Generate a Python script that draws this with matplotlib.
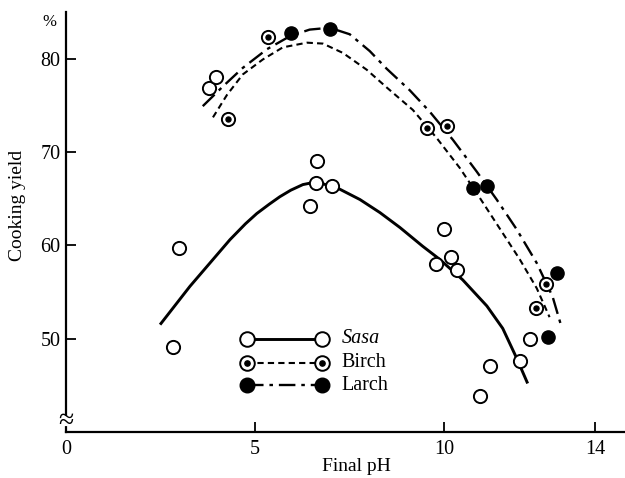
import matplotlib.pyplot as plt

# Sasa (open circles)
sasa_ph = [2.83, 2.99, 3.78, 3.97, 6.45, 6.61, 6.64, 7.03, 9.79, 10.0, 10.19, 10.34,
           10.95, 11.22, 12.01, 12.27]
sasa_yield = [49.1, 59.7, 76.8, 78.0, 64.2, 66.7, 69.0, 66.3, 58.0, 61.7, 58.7, 57.3,
              43.9, 47.1, 47.6, 50.0]
# Birch (dotted circles)
birch_ph = [4.29, 5.35, 9.55, 10.08, 12.43, 12.7]
birch_yield = [73.5, 82.3, 72.6, 72.8, 53.3, 55.9]
# Larch (filled circles)
larch_ph = [5.95, 6.98, 10.77, 11.14, 12.75, 13.0]
larch_yield = [82.7, 83.2, 66.1, 66.4, 50.2, 57.0]

# hand-drawn curves
sasa_curve_x = [2.49, 3.28, 4.34, 4.75, 5.05, 5.38, 5.66, 5.95, 6.27, 6.64, 7.25, 7.78,
                8.31, 8.84, 9.44, 9.89, 10.5, 11.14, 11.56, 11.93, 12.22]
sasa_curve_y = [51.5, 55.6, 60.6, 62.3, 63.4, 64.4, 65.2, 65.9, 66.5, 66.8, 66.0, 64.9,
                63.5, 61.9, 59.9, 58.5, 56.3, 53.5, 51.1, 47.9, 45.2]
birch_curve_x = [3.89, 4.26, 4.68, 5.21, 5.74, 6.38, 6.80, 7.33, 7.96, 8.49, 9.18, 9.81,
                 10.42, 10.95, 11.48, 12.01, 12.46, 12.80]
birch_curve_y = [73.7, 76.1, 78.3, 79.9, 81.2, 81.7, 81.6, 80.6, 78.8, 76.9, 74.5, 71.5,
                 68.3, 65.1, 61.8, 58.5, 55.4, 52.3]
larch_curve_x = [3.62, 4.15, 4.68, 5.32, 5.93, 6.45, 6.98, 7.51, 8.04, 8.49, 9.10, 9.63,
                 10.24, 10.87, 11.4, 11.93, 12.46, 12.88, 13.12]
larch_curve_y = [74.9, 77.0, 79.0, 81.0, 82.4, 83.1, 83.3, 82.6, 80.8, 78.9, 76.6, 74.3,
                 71.3, 67.9, 64.9, 61.7, 58.1, 54.5, 51.2]

legend_names = ['Sasa', 'Birch', 'Larch']
x_ticks = [0, 5, 10, 14]
y_ticks = [50, 60, 70, 80]

plt.rcParams['font.family'] = ['Liberation Serif', 'DejaVu Serif']

fig = plt.figure(figsize=(6.25, 4.78), dpi=100)
ax = fig.add_axes([0.1056, 0.0962, 0.894, 0.879])

ms = 9.5
ax.plot(sasa_curve_x, sasa_curve_y, color='black', lw=2.1, solid_capstyle='butt',
        solid_joinstyle='round')
ax.plot(birch_curve_x, birch_curve_y, color='black', lw=1.5, dashes=(3, 2))
ax.plot(larch_curve_x, larch_curve_y, color='black', lw=1.7, dashes=(7, 2.5, 1.5, 2.5))

ax.plot(sasa_ph, sasa_yield, 'o', ms=ms, mfc='white', mec='black', mew=1.4, zorder=5)
ax.plot(birch_ph, birch_yield, 'o', ms=ms, mfc='white', mec='black', mew=1.4, zorder=5)
ax.plot(birch_ph, birch_yield, 'o', ms=3.6, mfc='black', mec='black', zorder=6)
ax.plot(larch_ph, larch_yield, 'o', ms=ms, mfc='black', mec='black', zorder=5)

# legend drawn by hand inside the axes
leg_x = [4.78, 6.77]
leg_y = [50.0, 47.4, 45.0]
lms = 10.5
ax.plot(leg_x, [leg_y[0]] * 2, color='black', lw=2.1, marker='o', ms=lms,
        mfc='white', mec='black', mew=1.4)
ax.plot(leg_x, [leg_y[1]] * 2, color='black', lw=1.5, dashes=(3, 2), marker='o',
        ms=lms, mfc='white', mec='black', mew=1.4)
ax.plot(leg_x, [leg_y[1]] * 2, 'o', ms=3.8, color='black', zorder=6)
ax.plot(leg_x, [leg_y[2]] * 2, color='black', lw=1.7, dashes=(7, 2.5, 1.5, 2.5),
        marker='o', ms=lms, mfc='black', mec='black')
for name, yy in zip(legend_names, leg_y):
    ax.text(7.3, yy, name, fontsize=14.5, va='center', ha='left',
            style='italic' if name == 'Sasa' else 'normal')

ax.set_xlim(0, 14.79)
ax.set_ylim(40, 85)
ax.set_xticks(x_ticks)
ax.set_yticks(y_ticks)
ax.tick_params(direction='in', length=7, width=1.3, labelsize=14.5, pad=4)
ax.tick_params(axis='x', pad=6)
for side in ['top', 'right']:
    ax.spines[side].set_visible(False)
for side in ['left', 'bottom']:
    ax.spines[side].set_linewidth(1.6)

# axis break mark: gap in the y axis with two wavy strokes
ax.plot([0, 0], [40.85, 41.45], color='white', lw=3, clip_on=False, zorder=4)
ax.text(0, 41.15, '≈', fontsize=20, ha='center', va='center', clip_on=False, zorder=5)

ax.text(-0.029, 0.976, '%', transform=ax.transAxes, fontsize=12, ha='center',
        va='center')
ax.set_ylabel('Cooking yield', fontsize=14)
ax.yaxis.set_label_coords(-0.072, 0.54)
ax.set_xlabel('Final pH', fontsize=14)
ax.xaxis.set_label_coords(0.52, -0.062)

plt.savefig('out.png', dpi=100)
